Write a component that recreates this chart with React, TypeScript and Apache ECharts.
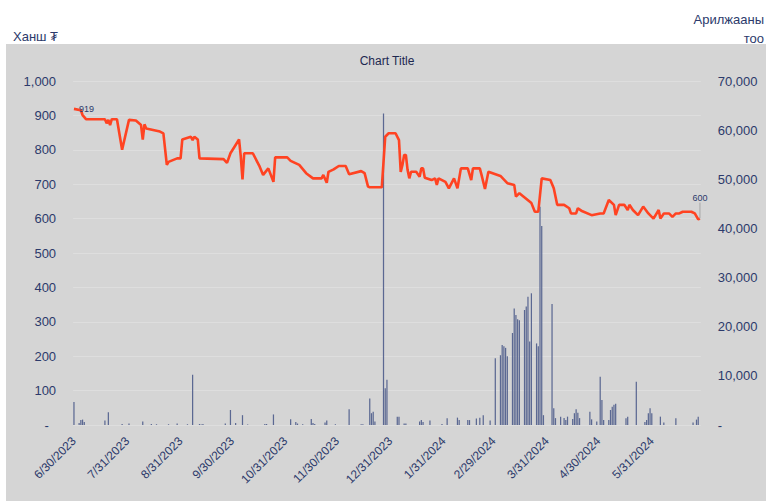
import React, { useEffect, useRef } from 'react';
import * as echarts from 'echarts';

const FIRST_DAY = '2023-06-30';
const LAST_DAY = '2024-06-28';

const LEFT_AXIS_TITLE = 'Ханш ₮';
const RIGHT_AXIS_TITLE = 'Арилжааны\nтоо';
const CHART_TITLE = 'Chart Title';

// Exchange rate (line, left axis) – vertices
const LINE_DATES = [
  '2023-06-30','2023-07-04','2023-07-05','2023-07-07','2023-07-18','2023-07-19','2023-07-20','2023-07-21','2023-07-22','2023-07-25','2023-07-28',
  '2023-08-01','2023-08-05','2023-08-08','2023-08-09','2023-08-10','2023-08-11','2023-08-13','2023-08-19','2023-08-21','2023-08-23','2023-08-24','2023-08-29','2023-08-31',
  '2023-09-01','2023-09-06','2023-09-07','2023-09-08','2023-09-10','2023-09-11','2023-09-25','2023-09-27','2023-09-29',
  '2023-10-04','2023-10-05','2023-10-06','2023-10-07','2023-10-12','2023-10-16','2023-10-18','2023-10-21','2023-10-24','2023-10-25',
  '2023-11-01','2023-11-03','2023-11-08','2023-11-12','2023-11-16','2023-11-21','2023-11-22','2023-11-24','2023-11-25','2023-11-28',
  '2023-12-01','2023-12-05','2023-12-07','2023-12-14','2023-12-16','2023-12-18','2023-12-19','2023-12-26','2023-12-28','2023-12-30',
  '2024-01-03','2024-01-05','2024-01-06','2024-01-07','2024-01-08','2024-01-09','2024-01-10','2024-01-11','2024-01-12','2024-01-15','2024-01-17','2024-01-18','2024-01-19','2024-01-20','2024-01-24','2024-01-26','2024-01-27','2024-01-28',
  '2024-02-01','2024-02-03','2024-02-06','2024-02-08','2024-02-10','2024-02-14','2024-02-16','2024-02-17','2024-02-21','2024-02-22','2024-02-24','2024-02-26',
  '2024-03-04','2024-03-08','2024-03-12','2024-03-13','2024-03-15','2024-03-22','2024-03-24','2024-03-26','2024-03-28',
  '2024-04-02','2024-04-04','2024-04-06','2024-04-10','2024-04-13','2024-04-14','2024-04-17','2024-04-18','2024-04-20','2024-04-26',
  '2024-05-01','2024-05-03','2024-05-06','2024-05-09','2024-05-10','2024-05-12','2024-05-15','2024-05-17','2024-05-18','2024-05-20','2024-05-23','2024-05-26','2024-05-29',
  '2024-06-01','2024-06-04','2024-06-05','2024-06-07','2024-06-10','2024-06-12','2024-06-14','2024-06-16','2024-06-18','2024-06-23','2024-06-25','2024-06-27','2024-06-28',
];
const LINE_VALUES = [
  919,915,901,889,889,877,887,872,889,889,800,
  887,885,872,830,874,862,860,853,848,756,765,775,775,
  830,838,828,838,830,775,773,762,790,
  830,780,714,790,790,751,727,746,707,778,
  778,768,756,732,717,717,727,704,736,743,
  753,753,729,738,732,693,691,691,838,848,
  848,828,736,756,785,785,741,717,736,736,722,746,746,719,712,717,698,717,
  707,688,717,688,746,746,712,746,746,727,686,736,
  724,703,698,664,674,645,620,620,717,
  712,688,640,640,630,615,615,630,623,610,
  615,615,654,640,610,640,640,625,640,625,610,635,615,
  600,625,600,615,615,605,615,615,620,620,615,598,600,
];

// Number of trades (bars, right axis)
const BAR_DATES = [
  '2023-06-30','2023-07-03','2023-07-04','2023-07-05','2023-07-06','2023-07-18','2023-07-20','2023-07-28',
  '2023-08-01','2023-08-09','2023-08-14','2023-08-17','2023-08-24','2023-08-29',
  '2023-09-04','2023-09-07','2023-09-11','2023-09-12','2023-09-13','2023-09-26','2023-09-29',
  '2023-10-02','2023-10-06','2023-10-09','2023-10-19','2023-10-20','2023-10-24',
  '2023-11-03','2023-11-06','2023-11-07','2023-11-10','2023-11-15','2023-11-16','2023-11-17','2023-11-23','2023-11-24','2023-11-29',
  '2023-12-07','2023-12-14','2023-12-15','2023-12-19','2023-12-20','2023-12-21','2023-12-22','2023-12-27','2023-12-28','2023-12-29',
  '2024-01-04','2024-01-05','2024-01-08','2024-01-09','2024-01-17','2024-01-18','2024-01-19','2024-01-23','2024-01-30',
  '2024-02-02','2024-02-08','2024-02-09','2024-02-14','2024-02-15','2024-02-19','2024-02-21','2024-02-23','2024-02-27',
  '2024-03-01','2024-03-04','2024-03-05','2024-03-06','2024-03-07','2024-03-08','2024-03-11','2024-03-12','2024-03-13','2024-03-14','2024-03-15','2024-03-18','2024-03-19','2024-03-20','2024-03-21','2024-03-22','2024-03-25','2024-03-26','2024-03-27','2024-03-28','2024-03-29',
  '2024-04-03','2024-04-04','2024-04-05','2024-04-08','2024-04-10','2024-04-11','2024-04-12','2024-04-15','2024-04-16','2024-04-17','2024-04-18','2024-04-19','2024-04-25','2024-04-26','2024-04-29',
  '2024-05-01','2024-05-02','2024-05-03','2024-05-06','2024-05-07','2024-05-08','2024-05-09','2024-05-10','2024-05-16','2024-05-17','2024-05-22','2024-05-27','2024-05-28','2024-05-29','2024-05-30','2024-05-31',
  '2024-06-05','2024-06-07','2024-06-14','2024-06-24','2024-06-26','2024-06-27',
];
const BAR_VALUES = [
  4700,400,1000,1100,600,900,2600,200,
  300,700,200,150,150,300,
  150,10200,200,100,200,300,3050,
  400,2000,100,200,200,2150,
  1150,600,300,150,1200,400,200,500,900,150,
  3200,150,150,5400,2400,2700,700,63400,7500,9200,
  1700,1700,300,300,700,1000,600,900,200,
  1350,1500,1000,1000,1000,1300,1500,2000,900,
  13600,14200,16300,16000,15700,14000,18700,23700,22400,21500,21300,23400,24100,26100,17000,26800,16600,16000,44400,40500,2000,
  24600,3400,1400,1700,1400,1000,1700,1200,2400,3200,2500,1400,2700,1150,700,
  9800,5100,1000,1000,3050,3700,4100,4300,1350,1700,8800,600,1000,2400,3400,2400,
  1700,500,1350,500,1100,1700,
];

const LEFT_MAX = 1000;
const LEFT_STEP = 100;
const RIGHT_MAX = 70000;
const RIGHT_STEP = 10000;

function buildDays(start: string, end: string): string[] {
  const out: string[] = [];
  const d = new Date(start + 'T00:00:00Z');
  const e = new Date(end + 'T00:00:00Z');
  while (d.getTime() <= e.getTime()) {
    out.push(d.toISOString().slice(0, 10));
    d.setUTCDate(d.getUTCDate() + 1);
  }
  return out;
}
function isMonthEnd(iso: string): boolean {
  const d = new Date(iso + 'T00:00:00Z');
  d.setUTCDate(d.getUTCDate() + 1);
  return d.getUTCDate() === 1;
}
function fmtDate(iso: string): string {
  const [y, m, dd] = iso.split('-');
  return `${+m}/${+dd}/${y}`;
}

const NAVY = '#2c3a6b';
const FONT = "'Liberation Sans', Arial, sans-serif";

export default function App() {
  const ref = useRef<HTMLDivElement>(null);
  useEffect(() => {
    const chart = echarts.init(ref.current!, null, { renderer: 'svg' });
    const days = buildDays(FIRST_DAY, LAST_DAY);
    const last = LINE_DATES.length - 1;
    const lineData = LINE_DATES.map((d, i) => {
      const item: any = { value: [d, LINE_VALUES[i]] };
      if (i === 0) {
        item.label = { show: true, position: 'right', offset: [9, -2], fontSize: 9, color: NAVY, formatter: '{@[1]}' };
      } else if (i === last) {
        item.label = { show: true, position: 'top', distance: 2, fontSize: 9, color: NAVY, formatter: '{@[1]}' };
        item.labelLine = { show: true, lineStyle: { color: '#a6a6a6', width: 1 } };
      }
      return item;
    });
    const barData = BAR_DATES.map((d, i) => [d, BAR_VALUES[i]]);

    chart.setOption({
      animation: false,
      textStyle: { fontFamily: FONT },
      graphic: [
        { type: 'rect', z: -100, silent: true, shape: { x: 6, y: 44, width: 760, height: 457 }, style: { fill: '#d5d5d5' } },
        { type: 'text', x: 13, y: 36, style: { text: LEFT_AXIS_TITLE, fontSize: 13, fill: NAVY, fontFamily: FONT, textVerticalAlign: 'middle', textAlign: 'left' } },
        { type: 'text', x: 764, y: 10, style: { text: RIGHT_AXIS_TITLE, fontSize: 13, lineHeight: 19, fill: NAVY, fontFamily: FONT, align: 'right', verticalAlign: 'top' } },
        { type: 'text', x: 387, y: 61, style: { text: CHART_TITLE, fontSize: 12, fill: '#1d2850', fontFamily: FONT, textAlign: 'center', textVerticalAlign: 'middle' } },
      ],
      grid: { left: 73.1, right: 65.2, top: 81, bottom: 77, containLabel: false },
      xAxis: {
        type: 'category',
        data: days,
        boundaryGap: true,
        axisLine: { show: false },
        axisTick: { show: false },
        splitLine: { show: false },
        axisLabel: {
          interval: (_i: number, v: string) => isMonthEnd(v),
          rotate: 45,
          margin: 14,
          fontSize: 12,
          color: NAVY,
          formatter: (v: string) => fmtDate(v),
        },
      },
      yAxis: [
        {
          type: 'value', min: 0, max: LEFT_MAX, interval: LEFT_STEP,
          axisLine: { show: false }, axisTick: { show: false },
          splitLine: { show: true, lineStyle: { color: '#dedede', width: 1 } },
          axisLabel: {
            margin: 17, fontSize: 13, color: NAVY,
            formatter: (v: number) => (v === 0 ? '-\u00a0\u00a0' : v.toLocaleString('en-US')),
          },
        },
        {
          type: 'value', min: 0, max: RIGHT_MAX, interval: RIGHT_STEP,
          axisLine: { show: false }, axisTick: { show: false },
          splitLine: { show: false },
          axisLabel: {
            margin: 17, fontSize: 13, color: NAVY,
            formatter: (v: number) => (v === 0 ? '-' : v.toLocaleString('en-US')),
          },
        },
      ],
      series: [
        {
          type: 'bar',
          yAxisIndex: 1,
          data: barData,
          barWidth: '72%',
          itemStyle: { color: '#5b6892' },
          z: 2,
        },
        {
          type: 'line',
          yAxisIndex: 0,
          data: lineData,
          showSymbol: true,
          symbol: 'circle',
          symbolSize: 0.01,
          lineStyle: { color: '#ff4322', width: 2.6 },
          itemStyle: { color: '#ff4322' },
          labelLayout: (p: any) => (p.dataIndex === last ? { dy: -14 } : {}),
          z: 3,
        },
      ],
    });
    return () => chart.dispose();
  }, []);
  return (
    <div
      ref={ref}
      style={{ position: 'fixed', left: 0, top: 0, width: 766, height: 502, background: '#ffffff' }}
    />
  );
}
